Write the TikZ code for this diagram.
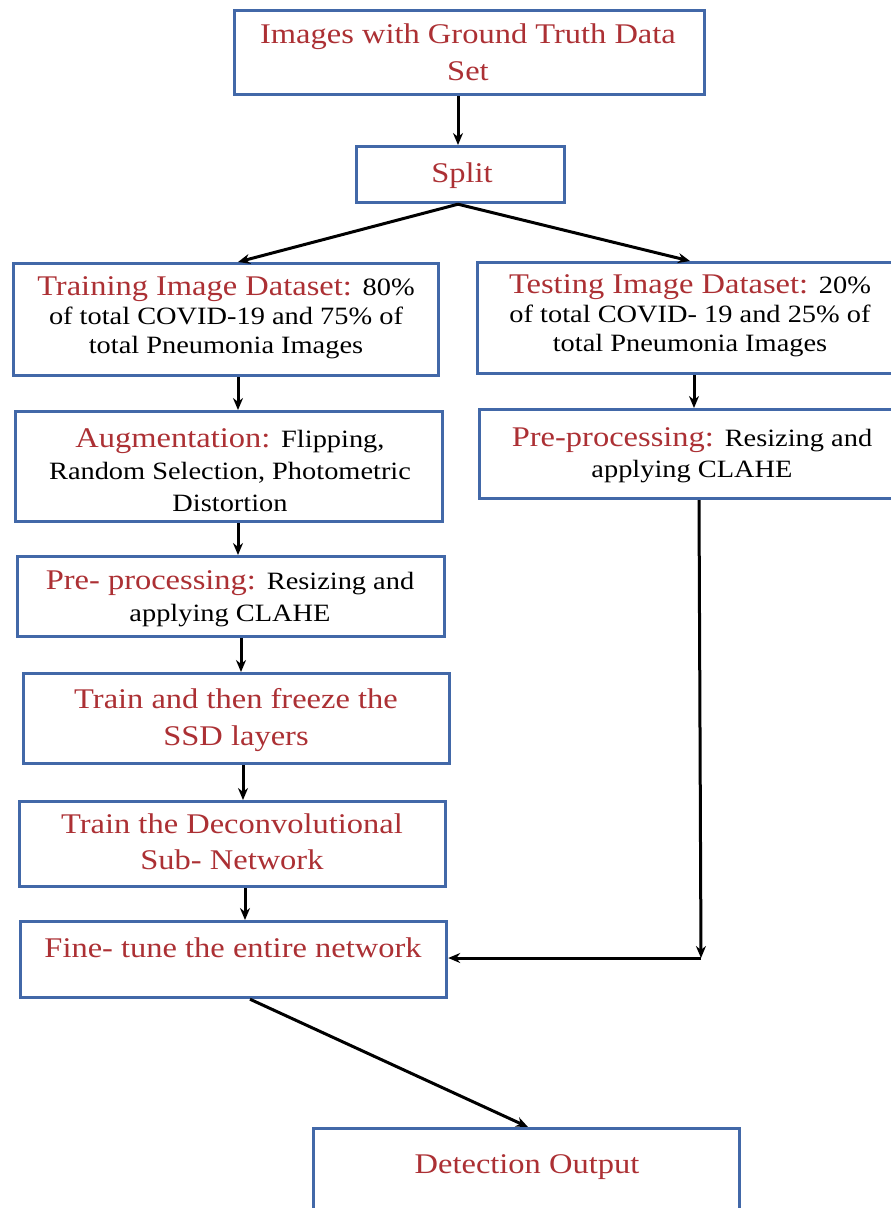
\documentclass[tikz,border=0pt]{standalone}
\usepackage{graphicx}
\usepackage{fontspec}
\setmainfont{Liberation Serif}
\usetikzlibrary{arrows.meta,calc}
\definecolor{txtred}{RGB}{172,48,52}
\definecolor{bxblue}{RGB}{66,104,168}
\newcommand{\redt}[1]{{\fontsize{28.5}{30}\selectfont\color{txtred}#1}}
\newcommand{\blkt}[1]{{\fontsize{24.9}{30}\selectfont\color{black}#1}}
% #1 = baseline distance, #2 = lines separated by \cr
\newcommand{\stk}[2]{\scalebox{1.14}[1]{\vbox{\baselineskip=#1\lineskiplimit=-100pt\lineskip=0pt\halign{\hfil##\hfil\cr #2\crcr}}}}
\begin{document}
\begin{tikzpicture}[x=1pt,y=-1pt,
  box/.style={draw=bxblue,line width=3.2pt,fill=white,inner sep=0pt,anchor=north west},
  lbl/.style={inner sep=0pt,anchor=base},
  arr/.style={draw=black,line width=3pt,-{Stealth[length=12pt,width=10pt]}}]
\useasboundingbox (0,0) rectangle (891,1208);
\fill[white] (0,0) rectangle (891,1208);
% boxes
\node[box,minimum width=470pt,minimum height=84pt] (top) at (233,9) {};
\node[box,minimum width=208pt,minimum height=56pt] (split) at (355,145) {};
\node[box,minimum width=425pt,minimum height=112pt] (train) at (12,262) {};
\node[box,minimum width=418pt,minimum height=111pt] (test) at (476,261) {};
\node[box,minimum width=427pt,minimum height=110pt] (aug) at (14,410) {};
\node[box,minimum width=416pt,minimum height=89pt] (preR) at (478,408) {};
\node[box,minimum width=427pt,minimum height=80pt] (preL) at (16,555) {};
\node[box,minimum width=426pt,minimum height=90pt] (freeze) at (22,672) {};
\node[box,minimum width=426pt,minimum height=85pt] (deconv) at (18,800) {};
\node[box,minimum width=426pt,minimum height=76pt] (fine) at (19,920) {};
\node[box,minimum width=426pt,minimum height=110pt] (detect) at (312,1127) {};
% texts
\node[lbl] (ttop) at (468,80) {\stk{37pt}{\redt{Images with Ground Truth Data}\cr\redt{Set}}};
\node[lbl] (tsplit) at (462,182) {\stk{30pt}{\redt{Split}}};
\node[lbl] (ttrain) at (226,353) {\stk{29pt}{\redt{Training Image Dataset: }\blkt{80\%}\cr\blkt{of total COVID-19 and 75\% of}\cr\blkt{total Pneumonia Images}}};
\node[lbl] (ttest) at (690,351) {\stk{29pt}{\redt{Testing Image Dataset: }\blkt{20\%}\cr\blkt{of total COVID- 19 and 25\% of}\cr\blkt{total Pneumonia Images}}};
\node[lbl] (taug) at (230,511) {\stk{32pt}{\redt{Augmentation: }\blkt{Flipping,}\cr\blkt{Random Selection, Photometric}\cr\blkt{Distortion}}};
\node[lbl] (tpreR) at (692,477) {\stk{31pt}{\redt{Pre-processing: }\blkt{Resizing and}\cr\blkt{applying CLAHE}}};
\node[lbl] (tpreL) at (230,621) {\stk{32pt}{\redt{Pre- processing: }\blkt{Resizing and}\cr\blkt{applying CLAHE}}};
\node[lbl] (tfreeze) at (236,745) {\stk{37pt}{\redt{Train and then freeze the}\cr\redt{SSD layers}}};
\node[lbl] (tdeconv) at (232,869) {\stk{36pt}{\redt{Train the Deconvolutional}\cr\redt{Sub- Network}}};
\node[lbl] (tfine) at (233,957) {\stk{30pt}{\redt{Fine- tune the entire network}}};
\node[lbl] (tdetect) at (527,1173) {\stk{30pt}{\redt{Detection Output}}};
% connectors
\coordinate (corner) at (701,958);
\draw[arr] (top.south -| 458,0) -- (split.north -| 458,0);
\draw[arr] (split.south -| 458,0) -- (train.north -| 238,0);
\draw[arr] (split.south -| 458,0) -- (test.north -| 690,0);
\draw[arr] (train.south -| 238,0) -- (aug.north -| 238,0);
\draw[arr] (test.south -| 694,0) -- (preR.north -| 694,0);
\draw[arr] (aug.south -| 238,0) -- (preL.north -| 238,0);
\draw[arr] (preL.south -| 241,0) -- (freeze.north -| 241,0);
\draw[arr] (freeze.south -| 243,0) -- (deconv.north -| 243,0);
\draw[arr] (deconv.south -| 245,0) -- (fine.north -| 245,0);
\draw[arr] (preR.south -| 699,0) -- (corner);
\draw[arr] (corner) -- (fine.east |- corner);
\draw[arr] (fine.south -| 250,0) -- (detect.north -| 528,0);
\end{tikzpicture}
\end{document}
